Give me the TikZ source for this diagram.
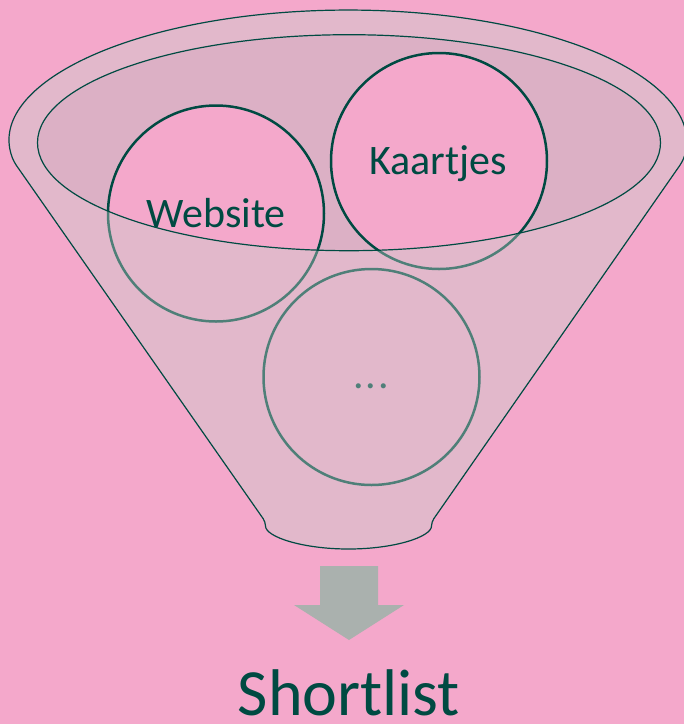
\documentclass[tikz,border=0pt]{standalone}
\usepackage{fontspec}
\setmainfont{Carlito}
\definecolor{bgpink}{RGB}{244,168,203}
\definecolor{innerc}{RGB}{220,176,197}
\definecolor{overc}{RGB}{199,208,203}
\definecolor{teal}{RGB}{0,74,66}
\definecolor{dotc}{RGB}{80,127,121}
\definecolor{arrowc}{RGB}{170,177,174}
\begin{document}
\begin{tikzpicture}[x=1pt,y=-1pt,
  bubble/.style={circle, draw=teal, line width=2.5pt, fill=bgpink, minimum size=216pt, inner sep=0pt},
  outline/.style={draw=teal, line width=1.2pt},
  lbl/.style={text=teal, font=\fontsize{42}{50}\selectfont, anchor=base, inner sep=0pt}]
\useasboundingbox (0,0) rectangle (684,724);
\fill[bgpink] (0,0) rectangle (684,724);
% opening of the funnel
\fill[innerc] (349,142.7) ellipse [x radius=311.5, y radius=108];
% circles
\node[bubble] (web) at (216,213.5) {};
\node[bubble] (kaart) at (439,161) {};
\node[bubble] (more) at (371.5,377) {};
% translucent front of the funnel
\fill[overc, fill opacity=0.4, even odd rule]
  (14,162) arc[start angle=171.3, end angle=368.7, x radius=338, y radius=132]
  -- (431.5,522) arc[start angle=0, end angle=180, x radius=83, y radius=27] -- cycle
  (349,142.7) ellipse [x radius=311.5, y radius=108];
% outlines
\draw[outline, rounded corners=4pt]
  (14,162) arc[start angle=171.3, end angle=368.7, x radius=338, y radius=132]
  -- (431.5,522) arc[start angle=0, end angle=180, x radius=83, y radius=27] -- cycle;
\draw[outline] (349,142.7) ellipse [x radius=311.5, y radius=108];
% labels
\node[lbl] (tweb) at (216,227) {Website};
\node[lbl] (tkaart) at (438,174) {Kaartjes};
\node[lbl, text=dotc] (tmore) at (371,388) {.\kern2pt.\kern2pt.};
% arrow
\fill[arrowc] (320,566) -- (378,566) -- (378,605) -- (404,605) -- (349,640) -- (294,605) -- (320,605) -- cycle;
\node[text=teal, font=\fontsize{66}{78}\selectfont, anchor=base, inner sep=0pt] (short) at (349,715) {Shortlist};
\end{tikzpicture}
\end{document}
